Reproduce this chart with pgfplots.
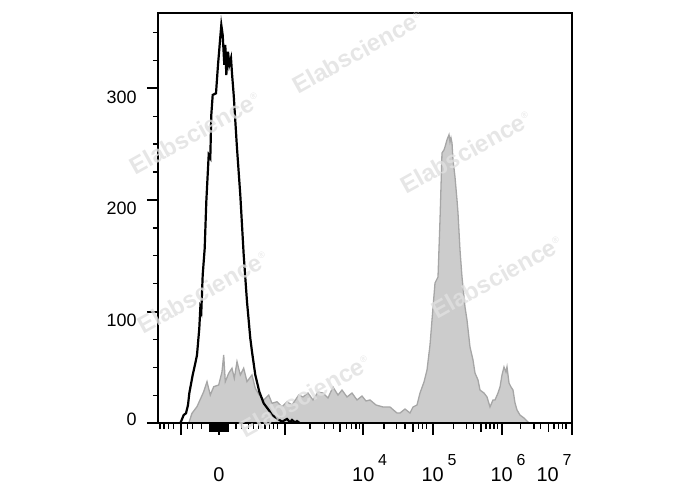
\documentclass[border=0pt]{standalone}
\usepackage{fontspec}
\setmainfont{Liberation Sans}
\usepackage{graphicx}
\usepackage{pgfplots}
\pgfplotsset{compat=1.18}
\newcommand{\dec}[1]{\makebox[0pt]{10}\rlap{\hspace{14.9bp}\smash{\raisebox{16.7bp}{\fontsize{16}{16}\selectfont #1}}}}
\newcommand{\decR}[1]{\hspace*{-24bp}\dec{#1}\hspace*{24bp}}
\definecolor{wm}{RGB}{224,224,224}
\begin{document}
\begin{tikzpicture}
\useasboundingbox (-158.3bp,-66.7bp) rectangle (529.7bp,423.3bp);
\begin{axis}[
  at={(0,0)}, anchor=south west,
  scale only axis, width=413.4bp, height=410.3bp,
  xmin=0, xmax=413.4, ymin=0, ymax=367.4,
  axis on top,
  axis line style={line width=1.6bp, black},
  tick align=outside,
  xtick pos=bottom, ytick pos=left,
  major tick length=11.5bp, minor tick length=5.5bp,
  major tick style={line width=2.2bp, black},
  minor tick style={line width=1.3bp, black},
  xtick={22.4,60.7,126.7,205,274.4,343.4,413.4},
  xticklabels={{},\makebox[0pt]{0},{},\dec{4},\dec{5},\dec{6},\decR{7}},
  minor xtick={1.7,5.7,10,15,29,34.4,43.4,77.7,83.4,90,95,100,106.7,111,115,119,
    151.7,166,175,188.4,193.4,197.7,201,
    225.7,238.4,246.7,260,264.4,268.4,
    295,308.4,315,327.7,331.7,335.7,339,
    362.4,375.7,382.4,395.7,400,404.4,407.7},
  extra x ticks={51.7,53.7,55.7,57.7,59.7,61.7,63.7,65.7,67.7,69.7,181.7,254.4,322.4,390},
  extra x tick labels={},
  extra x tick style={major tick length=8.5bp, major tick style={line width=1.6bp, black}},
  xticklabel shift=0pt,
  xticklabel style={anchor=base, inner sep=0pt, yshift=-46.9bp, font=\fontsize{20}{20}\selectfont},
  ytick={0,100,200,300},
  yticklabels={\raisebox{-1.7bp}{0},\raisebox{-15bp}{100},\raisebox{-15bp}{200},\raisebox{-15bp}{300}},
  minor ytick={25,50,75,125,150,175,225,250,275,325,350},
  yticklabel shift=0pt,
  yticklabel style={anchor=base east, inner sep=0pt, xshift=-10.1bp, font=\fontsize{18}{18}\selectfont},
]
\addplot[fill=black!20, draw=black!35, line width=1.3bp] table {
x y
30.4 0
33.7 9.0
38.7 14.9
45.4 28.3
48.7 37.3
52.0 25.3
55.4 32.8
60.4 34.3
63.7 46.2
65.4 61.2
67.0 37.3
70.4 44.8
73.7 49.3
76.0 40.3
78.7 55.2
82.0 43.3
85.4 49.3
88.7 37.3
93.7 43.3
97.0 31.3
101.0 25.3
105.4 20.9
110.4 25.3
113.7 17.9
118.7 19.3
123.7 14.9
128.7 19.3
133.7 16.4
140.4 25.3
144.7 23.6
149.7 27.1
154.7 20.9
159.7 28.0
164.7 27.1
169.7 22.7
174.7 32.5
179.7 25.3
183.7 29.8
188.7 23.6
193.7 27.1
198.7 20.9
203.7 24.4
207.7 20.0
211.7 20.9
217.7 16.4
224.7 14.6
231.7 14.6
238.7 9.2
241.7 9.2
246.7 12.8
251.7 9.2
254.7 14.6
258.7 16.4
261.7 27.1
265.7 37.0
268.7 47.7
271.7 70.1
273.7 92.5
276.7 125.6
279.7 131.0
281.7 182.1
283.7 242.1
285.7 244.8
286.7 247.5
288.7 253.8
290.7 258.3
291.7 252.0
292.7 255.6
293.7 251.1
294.7 235.8
296.7 220.6
298.7 200.0
299.7 188.3
301.7 155.2
303.7 131.0
306.7 104.1
308.7 92.5
311.7 68.3
314.7 56.7
316.7 45.0
319.7 38.8
321.7 29.8
325.7 27.1
328.7 23.6
331.7 14.6
334.7 20.9
336.7 20.9
339.7 27.1
341.7 32.5
343.7 43.3
345.7 50.4
347.7 45.9
348.7 50.4
350.7 36.1
352.7 32.5
354.7 29.8
356.7 18.2
358.7 11.9
361.7 7.4
365.7 4.7
369.7 1.2
371.7 0
};
\addplot[black, line width=2.2bp] table {
x y
0 0
22.0 0
25.4 7.4
27.7 9.0
29.7 16.4
31.0 26.9
34.4 43.3
37.0 53.7
38.7 61.2
41.0 85.1
42.0 103.0
43.0 100.0
44.4 132.8
46.4 156.7
48.0 198.4
50.4 240.3
52.0 237.6
53.0 276.1
54.4 294.0
57.7 295.5
59.7 320.9
63.0 356.7
64.4 347.7
66.0 320.9
67.0 338.8
68.0 311.9
69.7 332.8
71.0 320.9
72.7 326.9
73.7 313.4
75.4 294.0
78.7 246.3
82.0 204.4
85.4 150.7
88.7 108.9
92.0 76.1
93.7 64.1
97.0 43.3
101.0 28.3
105.4 17.9
110.4 11.9
113.7 7.4
118.7 4.5
123.7 1.4
128.7 3.9
131.7 1.0
133.7 3.0
136.7 0.7
138.7 2.0
141.7 0
};
\draw[black!55, line width=1.6bp] (rel axis cs:0,1) -- (rel axis cs:1,1);
\end{axis}
\begin{scope}[every node/.style={rotate=29, text=wm, opacity=0.8, font=\fontsize{24}{24}\selectfont\bfseries, inner sep=0pt}]
\node at (199.7bp,371.6bp) {Elabscience\textsuperscript{\fontsize{9}{9}\selectfont\textmd{®}}};
\node at (36.7bp,290.3bp) {Elabscience\textsuperscript{\fontsize{9}{9}\selectfont\textmd{®}}};
\node at (307.7bp,271.3bp) {Elabscience\textsuperscript{\fontsize{9}{9}\selectfont\textmd{®}}};
\node at (44.7bp,131.3bp) {Elabscience\textsuperscript{\fontsize{9}{9}\selectfont\textmd{®}}};
\node at (338.7bp,146.3bp) {Elabscience\textsuperscript{\fontsize{9}{9}\selectfont\textmd{®}}};
\node at (146.7bp,27.3bp) {Elabscience\textsuperscript{\fontsize{9}{9}\selectfont\textmd{®}}};
\end{scope}
\end{tikzpicture}
\end{document}
